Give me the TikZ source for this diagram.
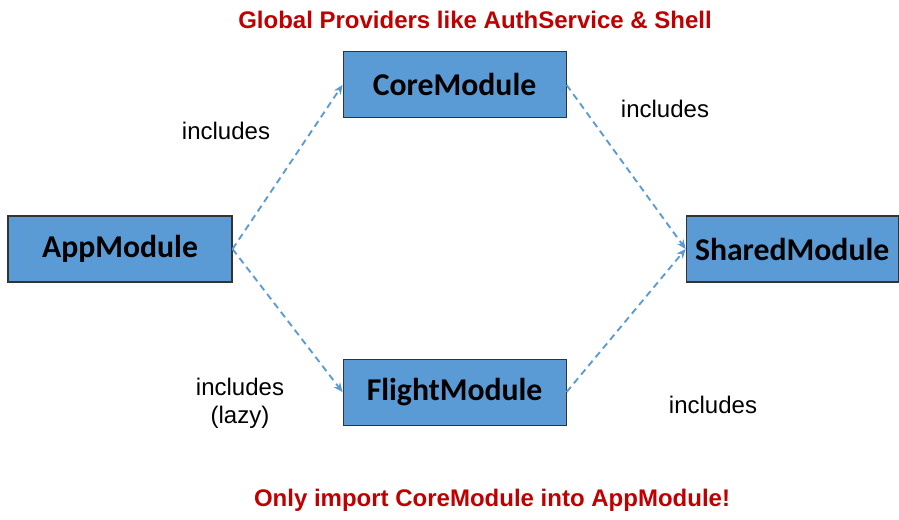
\documentclass[tikz,border=0pt]{standalone}
\usepackage{fontspec}
\setmainfont{Liberation Sans}
\newfontfamily\boxfont{Carlito}
\usepackage{tikz}
\usetikzlibrary{positioning}
\usetikzlibrary{arrows.meta}
\definecolor{modblue}{HTML}{5B9BD5}
\definecolor{noteRed}{HTML}{C00000}
\tikzset{
    x=0.75pt, y=-0.75pt,
    module/.style={ % the blue module boxes
        draw=black!80,
        fill=modblue,
        line width=0.8pt,
        minimum height=49.5pt,
        inner sep=0pt,
        font=\boxfont\bfseries\fontsize{23.8}{27}\selectfont
    },
    note/.style={
        text=noteRed,
        font=\bfseries\fontsize{18}{21}\selectfont
    },
    lbl/.style={
        font=\fontsize{18}{21}\selectfont,
        align=center
    },
    uses/.style={ % dashed include arrows
        draw=modblue,
        line width=1.4pt,
        dash pattern=on 5pt off 3.5pt,
        ->,>={Stealth[length=7pt,width=6pt]}
    }
}
\begin{document}
\begin{tikzpicture}
            \useasboundingbox (0,0) rectangle (899,519);

            \node[module, minimum width=168pt] (app) at (120,249) {AppModule};
            \node[module, minimum width=167.25pt, above right=72.75pt and 82.5pt of app.north east, anchor=south west] (core) {CoreModule};
            \node[module, minimum width=167.25pt, below right=57pt and 82.5pt of app.south east, anchor=north west] (flight) {FlightModule};
            \node[module, minimum width=159pt, below right=72.75pt and 89.25pt of core.south east, anchor=north west] (shared) {SharedModule};

            \node[note] (top) at (475,20) {Global Providers like AuthService \& Shell};
            \node[note] (bottom) at (492,500) {Only import CoreModule into AppModule!};

            \node[lbl] (l1) at (226,131) {includes};
            \node[lbl] (l2) at (665,109) {includes};
            \node[lbl, inner ysep=0pt] (l3) at (240,403) {includes\\(lazy)};
            \node[lbl] (l4) at (713,405) {includes};

            \draw[uses] (app.east) -- (core.west);
            \draw[uses] (app.east) -- (flight.west);
            \draw[uses] (core.east) -- (shared.west);
            \draw[uses] (flight.east) -- (shared.west);
        \end{tikzpicture}
\end{document}
